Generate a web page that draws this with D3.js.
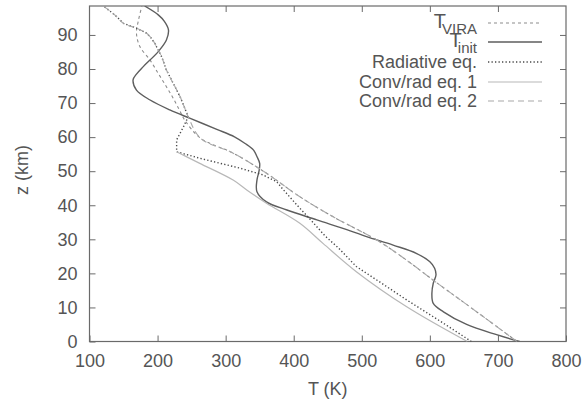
<!DOCTYPE html>
<html>
<head>
<meta charset="utf-8">
<script src="https://cdn.jsdelivr.net/npm/d3@7"></script>
<style>
  html, body { margin: 0; padding: 0; background: #fff; }
  svg { display: block; }
  text { font-family: "Liberation Sans", Arial, Helvetica, sans-serif; fill: #555; }
</style>
</head>
<body>
<svg id="chart" width="584" height="406"></svg>
<script>
// ---- data (T in K, z in km) ----
const xTicks = [100, 200, 300, 400, 500, 600, 700, 800];
const yTicks = [0, 10, 20, 30, 40, 50, 60, 70, 80, 90];

const viraZ = [0, 10, 18, 24, 29.8, 36.6, 42.5, 49.4, 55.3, 59.7, 65, 68, 71.4, 74.8, 78.7, 82.6, 86.6, 90.5, 94.4, 98.5];
const viraT = [728, 660, 605, 565, 522, 458, 409, 360, 311, 263, 240, 232, 223, 213, 201, 189, 174, 169, 172, 177];

const initZ = [0, 2, 5, 8.7, 11.2, 14.2, 17.1, 19.5, 21.5, 23.4, 25.9, 28.3, 30.8, 32.5, 35.7, 38.6, 41, 44, 47.4, 50, 52.3, 54.3, 56.2, 58.2, 60.1, 62.3, 65.5, 68, 70.9, 73.8, 76.8, 78.5, 80.7, 85.1, 88.5, 91.5, 94, 95.9, 98.5];
const initT = [732, 698, 654, 620, 605, 603, 605, 609, 607, 600, 580, 546, 507, 483, 434, 390, 360, 346, 346, 349, 350, 346, 341, 328, 313, 287, 248, 218, 189, 169, 164, 169, 179, 201, 213, 216, 210, 201, 181];

const radZ = [0, 6, 12.2, 17, 22, 27.4, 31, 35.7, 40, 44.5, 46.9, 48.9, 50.9, 52.8, 53.8, 55.7, 59.2, 63, 66, 69, 71.9, 75.8, 79.7, 83.6, 87.5, 89, 90.5, 92, 93.4, 95.9, 97.8, 98.5];
const radT = [661, 615, 566, 530, 492, 466, 446, 425, 405, 385, 375, 355, 321, 282, 262, 228, 228, 238, 245, 239, 233, 223, 213, 206, 196, 191, 184, 169, 150, 137, 125, 120];

const conv1Z = [0, 10.2, 20.5, 28.8, 34.7, 40.6, 44.5, 47.4, 52.3, 54.5, 55.7];
const conv1T = [655, 566, 492, 443, 409, 360, 331, 311, 262, 240, 228];

const conv2Z = [0, 10, 18, 24, 29.8, 36.6, 42.5, 49.4, 55.3, 59.7, 66, 69, 71.9, 75.8, 79.7, 83.6, 87.5, 89, 90.5, 92, 93.4, 95.9, 97.8, 98.5];
const conv2T = [728, 660, 605, 565, 522, 458, 409, 360, 311, 263, 245, 239, 233, 223, 213, 206, 196, 191, 184, 169, 150, 137, 125, 120];

// ---- layout ----
const svg = d3.select("#chart");
const L = 89.5, R = 566, T0 = 6, B = 341.5;
const x = d3.scaleLinear().domain([100, 800]).range([L, R]);
const y = d3.scaleLinear().domain([0, 98.5]).range([B, T0]);
const frameColor = "#6a6a6a";

svg.append("defs").append("clipPath").attr("id", "clip")
  .append("rect").attr("x", L).attr("y", T0).attr("width", R - L).attr("height", B - T0);

// axes with inward ticks
const tk = 6;
svg.append("g").attr("transform", `translate(0,${B})`)
  .call(d3.axisBottom(x).tickValues(xTicks).tickSize(-tk).tickPadding(13).tickFormat(d3.format("d")))
  .call(g => { g.select(".domain").remove(); });
svg.append("g").attr("transform", `translate(0,${T0})`)
  .call(d3.axisTop(x).tickValues(xTicks.slice(1, -1)).tickSize(-tk).tickFormat(""))
  .call(g => g.select(".domain").remove());
svg.append("g").attr("transform", `translate(${L},0)`)
  .call(d3.axisLeft(y).tickValues(yTicks).tickSize(-tk).tickPadding(12).tickFormat(d3.format("d")))
  .call(g => g.select(".domain").remove());
svg.append("g").attr("transform", `translate(${R},0)`)
  .call(d3.axisRight(y).tickValues(yTicks.slice(1)).tickSize(-tk).tickFormat(""))
  .call(g => g.select(".domain").remove());

svg.selectAll(".tick line").attr("stroke", frameColor).attr("stroke-width", 1);
svg.selectAll(".tick text").style("font-size", "18px").attr("fill", "#555")
  .style("font-family", "'Liberation Sans', Arial, sans-serif");

svg.append("rect").attr("x", L).attr("y", T0).attr("width", R - L).attr("height", B - T0)
  .attr("fill", "none").attr("stroke", frameColor).attr("stroke-width", 1.2);

// axis titles
svg.append("text").attr("x", (L + R) / 2).attr("y", 395).attr("text-anchor", "middle")
  .style("font-size", "18px").text("T (K)");
svg.append("text").attr("transform", `translate(28,170) rotate(-90)`).attr("text-anchor", "middle")
  .style("font-size", "18px").text("z (km)");

// series
const series = [
  { name: "vira", z: viraZ, t: viraT, color: "#8c8c8c", width: 1.1, dash: "3,3", curve: d3.curveCatmullRom },
  { name: "init", z: initZ, t: initT, color: "#5e5e5e", width: 1.4, dash: null, curve: d3.curveCatmullRom },
  { name: "rad", z: radZ, t: radT, color: "#4a4a4a", width: 1.4, dash: "1.3,2.2", curve: d3.curveLinear },
  { name: "conv1", z: conv1Z, t: conv1T, color: "#b8b8b8", width: 1.2, dash: null, curve: d3.curveCatmullRom },
  { name: "conv2", z: conv2Z, t: conv2T, color: "#a8a8a8", width: 1.1, dash: "6,4", curve: d3.curveCatmullRom }
];

const plot = svg.append("g").attr("clip-path", "url(#clip)");
series.forEach(s => {
  const pts = s.z.map((zz, i) => [s.t[i], zz]);
  const line = d3.line().x(d => x(d[0])).y(d => y(d[1])).curve(s.curve);
  plot.append("path").datum(pts).attr("d", line)
    .attr("fill", "none").attr("stroke", s.color).attr("stroke-width", s.width)
    .attr("stroke-dasharray", s.dash);
});

// legend
const lgX = 477, lgL1 = 488, lgL2 = 542;
const rows = [
  { s: series[0], yLine: 23, main: "T", sub: "VIRA" },
  { s: series[1], yLine: 42, main: "T", sub: "init" },
  { s: series[2], yLine: 62, label: "Radiative eq." },
  { s: series[3], yLine: 82, label: "Conv/rad eq. 1" },
  { s: series[4], yLine: 101, label: "Conv/rad eq. 2" }
];
rows.forEach(r => {
  svg.append("line").attr("x1", lgL1).attr("x2", lgL2).attr("y1", r.yLine).attr("y2", r.yLine)
    .attr("stroke", r.s.color).attr("stroke-width", r.s.width).attr("stroke-dasharray", r.s.dash);
  if (r.label) {
    svg.append("text").attr("x", lgX).attr("y", r.yLine + 6).attr("text-anchor", "end")
      .style("font-size", "18px").text(r.label);
  } else {
    const t = svg.append("text").attr("x", lgX).attr("y", r.yLine + 5).attr("text-anchor", "end")
      .style("font-size", "20px");
    t.append("tspan").text(r.main);
    t.append("tspan").attr("dx", -4).attr("dy", 6).style("font-size", "15px").text(r.sub);
  }
});
</script>
</body>
</html>
